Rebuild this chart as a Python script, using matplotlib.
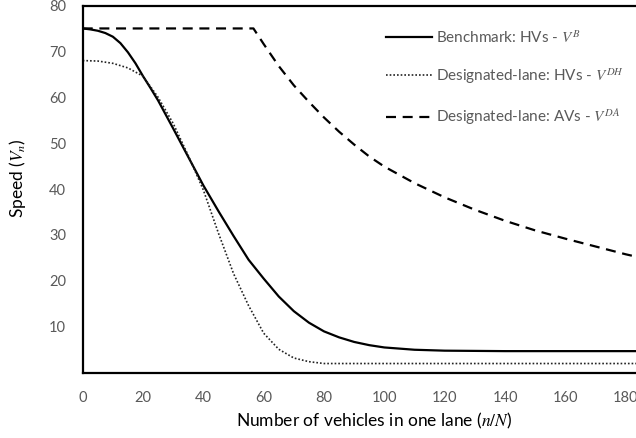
import matplotlib.pyplot as plt

# speed vs. number of vehicles in one lane
n_bench = [0, 2.5, 5, 7.5, 10, 12.5, 15, 17.5, 20, 22.5, 25, 30, 35, 40, 45,
           50, 55, 60, 65, 70, 75, 80, 85, 90, 95, 100, 110, 120, 140, 160,
           180, 195]
v_bench = [75.0, 74.8, 74.5, 74.0, 73.2, 71.8, 69.8, 67.4, 64.6, 62.0, 59.3,
           53.2, 47.0, 40.8, 35.2, 29.8, 24.6, 20.5, 16.6, 13.4, 10.9, 9.0,
           7.7, 6.7, 6.0, 5.5, 5.0, 4.8, 4.7, 4.7, 4.7, 4.7]

n_dh = [0, 5, 10, 15, 20, 25, 30, 35, 40, 45, 50, 55, 60, 65, 70, 75, 80,
        120, 160, 195]
v_dh = [68.0, 67.9, 67.4, 66.4, 64.6, 60.0, 54.3, 47.3, 39.8, 30.4, 21.6,
        14.6, 8.6, 5.1, 3.2, 2.4, 2.0, 2.0, 2.0, 2.0]

n_da = [0, 20, 40, 56.6, 60, 65, 70, 75, 80, 85, 90, 95, 100, 110, 120, 130,
        140, 150, 160, 170, 180, 190, 195]
v_da = [75.0, 75.0, 75.0, 75.0, 71.6, 66.8, 62.6, 59.0, 55.6, 52.5, 49.7,
        47.1, 44.9, 41.3, 38.2, 35.5, 33.1, 31.0, 29.2, 27.5, 25.8, 24.3, 23.7]

x_ticks = [0, 20, 40, 60, 80, 100, 120, 140, 160, 180]
y_ticks = [10, 20, 30, 40, 50, 60, 70, 80]

plt.rcParams['font.family'] = ['Lato', 'DejaVu Sans']
plt.rcParams['mathtext.fontset'] = 'stix'

W, H = 636, 438
fig = plt.figure(figsize=(W / 100, H / 100), dpi=100)
# axes run past the right edge of the figure, so the right spine is not seen
left, right, top, bottom = 82.7, 667.0, 5.5, 372.7
ax = fig.add_axes([left / W, (H - bottom) / H, (right - left) / W, (bottom - top) / H])

ax.plot(n_bench, v_bench, color='black', lw=1.6, ls='-',
        label=r'Benchmark: HVs - $V^{B}$')
ax.plot(n_dh, v_dh, color='#222222', lw=1.2, ls=(0, (1, 1.2)),
        label=r'Designated-lane: HVs - $V^{DH}$')
ax.plot(n_da, v_da, color='black', lw=1.6, ls=(0, (4.5, 3)),
        label=r'Designated-lane: AVs - $V^{DA}$')

ax.set_xlim(0, 193.7)
ax.set_ylim(0, 80)
ax.set_xticks(x_ticks)
ax.set_yticks(y_ticks)
ax.tick_params(length=0, labelsize=10.5, labelcolor='#595959')
ax.tick_params(axis='x', pad=13)
ax.tick_params(axis='y', pad=12)

for side in ['left', 'top', 'bottom']:
    ax.spines[side].set_linewidth(1.6)
ax.spines['right'].set_visible(False)

ax.set_xlabel(r'Number of vehicles in one lane ($n/N$)', fontsize=12.5, color='black')
ax.set_ylabel(r'Speed ($V_n$)', fontsize=12.5, color='black')
ax.xaxis.set_label_coords((374.5 - left) / (right - left), -(411 - bottom) / (bottom - top))
ax.yaxis.set_label_coords(-(left - 28) / (right - left), (bottom - 178) / (bottom - top))

ax.legend(loc='upper left', bbox_to_anchor=(386 / W, 1 - 29 / H),
          bbox_transform=fig.transFigure, frameon=False, fontsize=11,
          labelcolor='#595959', handlelength=3.0, handletextpad=0.3,
          labelspacing=1.35, borderpad=0, borderaxespad=0)

fig.savefig('out.png', dpi=100)
